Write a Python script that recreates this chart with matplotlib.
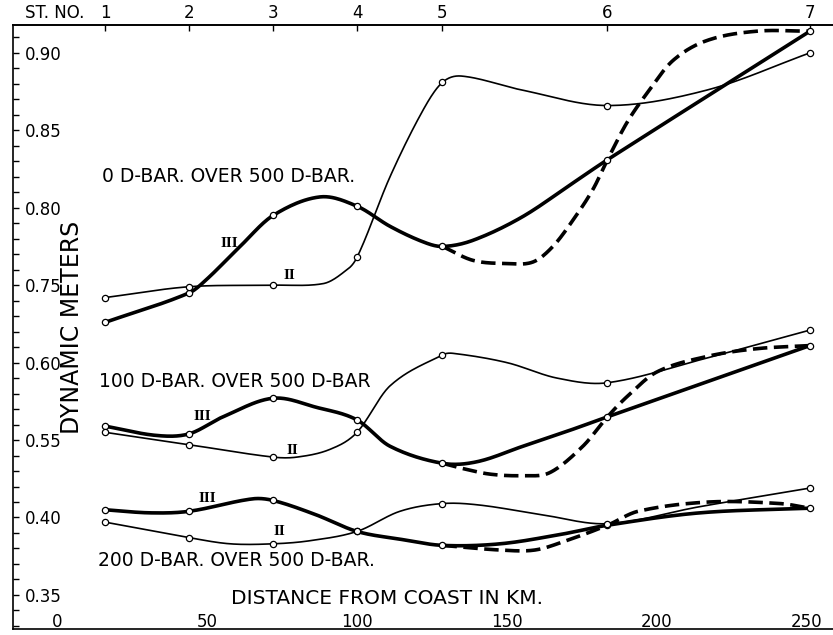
import numpy as np
import matplotlib
matplotlib.use("Agg")
import matplotlib.pyplot as plt

# station positions (km from coast) and the numbers written along the top
station_km = [16, 44, 72, 100, 128.5, 183.5, 251]
station_labels = ["1", "2", "3", "4", "5", "6", "7"]
km_ticks = [0, 50, 100, 150, 200, 250]

# dynamic meters at each station (curve III thick, curve II thin)
top_III = [0.726, 0.745, 0.795, 0.801, 0.775, 0.831, 0.914]
top_II = [0.742, 0.749, 0.750, 0.768, 0.881, 0.866, 0.900]
mid_III = [0.559, 0.554, 0.577, 0.563, 0.535, 0.565, 0.611]
mid_II = [0.555, 0.547, 0.539, 0.555, 0.605, 0.587, 0.621]
bot_III = [0.405, 0.404, 0.411, 0.391, 0.382, 0.395, 0.406]
bot_II = [0.397, 0.387, 0.383, 0.391, 0.409, 0.396, 0.419]

# points traced along the drawn curves between stations
top_III_km = [50, 61, 87.7, 111, 122, 138.7, 155, 172]
top_III_val = [0.754, 0.775, 0.807, 0.788, 0.778, 0.779, 0.794, 0.816]
top_II_km = [88.7, 95.3, 111, 122, 135, 155, 216.7]
top_II_val = [0.751, 0.758, 0.820, 0.863, 0.885, 0.876, 0.876]
top_dash_km = [138.7, 150, 158.7, 165.3, 172, 178.7, 190, 196.7, 205.3, 216.7, 233.3]
top_dash_val = [0.766, 0.764, 0.765, 0.775, 0.792, 0.812, 0.855, 0.874, 0.895, 0.908, 0.914]

mid_III_km = [33, 55.3, 86.7, 111, 140, 155.3, 172]
mid_III_val = [0.553, 0.565, 0.571, 0.546, 0.536, 0.546, 0.557]
mid_II_km = [80, 91, 111, 132, 150, 166.7, 216.7]
mid_II_val = [0.539, 0.544, 0.585, 0.606, 0.600, 0.590, 0.603]
mid_dash_km = [134.4, 144.3, 155.3, 164.3, 175.3, 190, 200, 216.7, 233.3]
mid_dash_val = [0.532, 0.528, 0.527, 0.529, 0.546, 0.578, 0.594, 0.604, 0.609]

bot_III_km = [31, 65, 86, 114.3, 147.7, 167.7, 214.3]
bot_III_val = [0.403, 0.412, 0.402, 0.386, 0.383, 0.389, 0.403]
bot_II_km = [57.7, 84.3, 114.3, 141, 161, 214.3]
bot_II_val = [0.383, 0.385, 0.404, 0.408, 0.402, 0.407]
bot_dash_km = [147.7, 159.3, 169.7, 193.7, 217.3, 241]
bot_dash_val = [0.379, 0.379, 0.385, 0.404, 0.410, 0.409]

# the three groups share one broken vertical scale
ytick_values = [0.90, 0.85, 0.80, 0.75, 0.60, 0.55, 0.40, 0.35]
ytick_shift = [0, 0, 0, 0, 0.10, 0.10, 0.20, 0.20]


def merge(xa, ya, xb, yb):
    x = np.concatenate([np.asarray(xa, float), np.asarray(xb, float)])
    y = np.concatenate([np.asarray(ya, float), np.asarray(yb, float)])
    order = np.argsort(x)
    return x[order], y[order]


def smooth(x, y, n=25):
    # catmull-rom style cubic through the traced points
    h = np.diff(x)
    m = np.empty_like(y)
    m[0] = (y[1] - y[0]) / h[0]
    m[-1] = (y[-1] - y[-2]) / h[-1]
    m[1:-1] = (y[2:] - y[:-2]) / (x[2:] - x[:-2])
    t = np.linspace(0, 1, n)
    h00 = 2 * t**3 - 3 * t**2 + 1
    h10 = t**3 - 2 * t**2 + t
    h01 = -2 * t**3 + 3 * t**2
    h11 = t**3 - t**2
    xs, ys = [], []
    for i in range(len(x) - 1):
        xs.append(x[i] + t * h[i])
        ys.append(h00 * y[i] + h10 * h[i] * m[i] + h01 * y[i + 1] + h11 * h[i] * m[i + 1])
    return np.concatenate(xs), np.concatenate(ys)


fig = plt.figure(figsize=(8.33, 6.35), dpi=100)
ax = fig.add_axes([13 / 833, 6 / 635, 820 / 833, 604 / 635])

groups = [
    (0.0, top_III, top_II, top_III_km, top_III_val, top_II_km, top_II_val, top_dash_km, top_dash_val),
    (0.10, mid_III, mid_II, mid_III_km, mid_III_val, mid_II_km, mid_II_val, mid_dash_km, mid_dash_val),
    (0.20, bot_III, bot_II, bot_III_km, bot_III_val, bot_II_km, bot_II_val, bot_dash_km, bot_dash_val),
]

for shift, s3, s2, k3, v3, k2, v2, kd, vd in groups:
    x, y = smooth(*merge(station_km, s3, k3, v3))
    ax.plot(x, y + shift, color="black", lw=2.6, solid_capstyle="round", zorder=3)
    x, y = smooth(*merge(station_km, s2, k2, v2))
    ax.plot(x, y + shift, color="black", lw=1.2, zorder=3)
    x, y = smooth(*merge(station_km[4:], s3[4:], kd, vd))
    ax.plot(x, y + shift, color="black", lw=2.6, ls=(0, (4, 1.8)), zorder=3)
    for s in (s3, s2):
        ax.plot(station_km, np.array(s) + shift, ls="none", marker="o", ms=4.5,
                mfc="white", mec="black", mew=0.9, zorder=5)

ax.set_xlim(-14.7, 258.7)
ax.set_ylim(0.528, 0.918)

for side in ["left", "top", "bottom"]:
    ax.spines[side].set_linewidth(1.2)
ax.spines["right"].set_visible(False)

ypos = [v + s for v, s in zip(ytick_values, ytick_shift)]
ax.set_yticks(ypos)
ax.set_yticklabels(["%.2f" % v for v in ytick_values])
ax.set_yticks(np.arange(0.53, 0.915, 0.01), minor=True)
ax.tick_params(axis="y", which="both", direction="in", length=4, width=1,
               labelsize=12, pad=-8.5)
plt.setp(ax.get_yticklabels(), ha="left")

ax.set_xticks(km_ticks)
ax.set_xticklabels([str(k) for k in km_ticks])
ax.tick_params(axis="x", which="both", direction="in", length=0, labelsize=12, pad=-1.5)
plt.setp(ax.get_xticklabels(), va="baseline")

top = ax.secondary_xaxis("top")
top.set_xticks(station_km)
top.set_xticklabels(station_labels)
top.tick_params(direction="in", length=4, width=1, labelsize=12, pad=2)
top.spines["top"].set_linewidth(1.2)
fig.text(55 / 833, 1 - 13 / 635, "ST. NO.", fontsize=12, ha="center", va="center")

ax.text(15, 0.820, "0 D-BAR. OVER 500 D-BAR.", fontsize=13.5, va="center")
ax.text(14, 0.688, "100 D-BAR. OVER 500 D-BAR", fontsize=13.5, va="center")
ax.text(13.5, 0.572, "200 D-BAR. OVER 500 D-BAR.", fontsize=13.5, va="center")
ax.text(58, 0.548, "DISTANCE FROM COAST IN KM.", fontsize=14.5, va="center")
ax.text(5, 0.723, "DYNAMIC METERS", rotation=90, fontsize=17, ha="center", va="center")

for xk, yp, t in [(57.3, 0.777, "III"), (77.3, 0.756, "II"),
                  (48.3, 0.665, "III"), (78.3, 0.643, "II"),
                  (50, 0.612, "III"), (74, 0.591, "II")]:
    ax.text(xk, yp, t, fontsize=11, family="Liberation Serif", weight="bold",
            ha="center", va="center")

fig.savefig("out.png", dpi=100)
